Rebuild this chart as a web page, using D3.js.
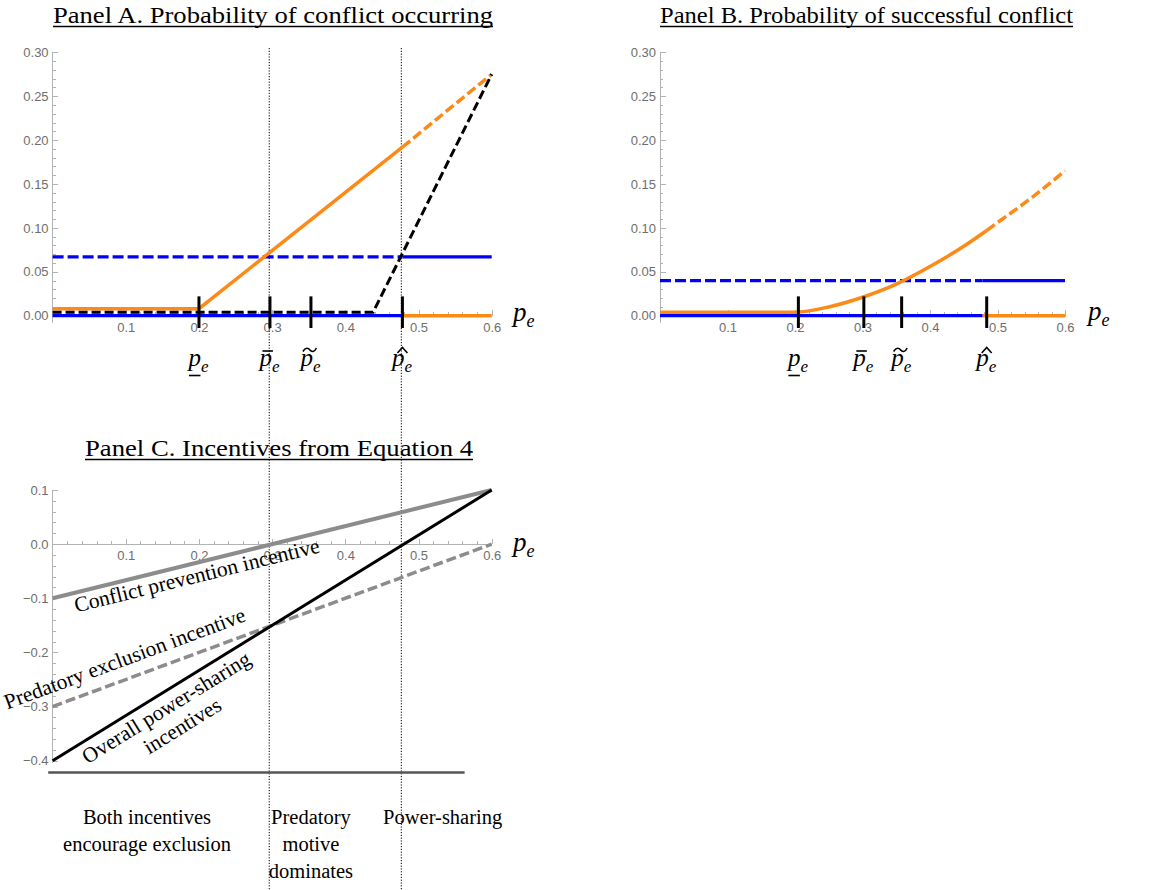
<!DOCTYPE html>
<html>
<head>
<meta charset="utf-8">
<script src="https://cdn.jsdelivr.net/npm/d3@7"></script>
<style>
  html, body { margin: 0; padding: 0; background: #fff; }
  svg { display: block; }
  .axis path, .axis line { stroke: #b3b3b3; stroke-width: 1; shape-rendering: crispEdges; }
  .axis text { font-family: "Liberation Sans", Arial, sans-serif; font-size: 13px; fill: #6e6e6e; }
  .serif { font-family: "Liberation Serif", "Times New Roman", serif; fill: #000; }
</style>
</head>
<body>
<div id="chart"></div>
<script>
// =====================================
// DATA
// =====================================

const xTicks = [0.1, 0.2, 0.3, 0.4, 0.5, 0.6];
const yTicksAB = [0, 0.05, 0.10, 0.15, 0.20, 0.25, 0.30];
const yTicksC = [-0.4, -0.3, -0.2, -0.1, 0, 0.1];

// threshold marks (underline, bar, tilde, hat)
const markTypes = ["under", "bar", "tilde", "hat"];
const marksA = [0.2, 0.297, 0.353, 0.478];
const marksB = [0.205, 0.302, 0.358, 0.484];
const dividers = [0.296, 0.4765];

// Panel A. Probability of conflict occurring
const aBlueZero = [[0, 0], [0.478, 0]];
const aBlueDash = [[0, 0.067], [0.478, 0.067]];
const aBlueSolid = [[0.478, 0.067], [0.6, 0.067]];
const aOrangeSolid = [[0, 0.008], [0.2, 0.008], [0.478, 0.192]];
const aOrangeDash = [[0.478, 0.192], [0.6, 0.275]];
const aOrangeZero = [[0.478, 0], [0.6, 0]];
const aBlackDash = [[0, 0.004], [0.438, 0.004], [0.6, 0.275]];

// Panel B. Probability of successful conflict
const bBlueZero = [[0, 0], [0.478, 0]];
const bBlueDash = [[0, 0.04], [0.478, 0.04]];
const bBlueSolid = [[0.478, 0.04], [0.6, 0.04]];
const bOrangeSolid = [[0, 0.004], [0.2, 0.004], [0.25, 0.010], [0.3, 0.021], [0.35, 0.036],
  [0.4, 0.056], [0.45, 0.079], [0.484, 0.097]];
const bOrangeDash = [[0.484, 0.097], [0.5, 0.106], [0.55, 0.134], [0.6, 0.165]];
const bOrangeZero = [[0.478, 0], [0.6, 0]];

// Panel C. Incentives from Equation 4
const cConflict = [[0, -0.1], [0.6, 0.1]];
const cPredatory = [[0, -0.3], [0.6, 0]];
const cOverall = [[0, -0.4], [0.6, 0.1]];

const regions = [
  { x: 0.129, lines: ["Both incentives", "encourage exclusion"] },
  { x: 0.353, lines: ["Predatory", "motive", "dominates"] },
  { x: 0.533, lines: ["Power-sharing"] }
];

// =====================================
// SVG
// =====================================

const svg = d3.select("#chart")
  .append("svg")
  .attr("width", 1157)
  .attr("height", 890);

const ORANGE = "#fd8a17";
const BLUE = "#0000ff";
const GRAY = "#8c8c8c";

// =====================================
// SCALES
// =====================================

const xA = d3.scaleLinear().domain([0, 0.6]).range([52.6, 491.7]);
const yA = d3.scaleLinear().domain([0, 0.3]).range([315.7, 52.3]);
const xB = d3.scaleLinear().domain([0, 0.6]).range([660, 1065]);
const yB = yA.copy();
const xC = xA.copy();
const yC = d3.scaleLinear().domain([-0.4, 0.1]).range([760.7, 490]);

// =====================================
// AXES
// =====================================

function drawAxes(x, y, yTicks, yMinor, yLow, fmt) {
  const xMinor = d3.range(1, 31).map(i => +(i * 0.02).toFixed(2))
    .filter(v => Math.abs(v * 10 - Math.round(v * 10)) > 1e-6);

  const gx = svg.append("g")
    .attr("class", "axis")
    .attr("transform", `translate(0,${y(0)})`);

  gx.append("g").call(
    d3.axisBottom(x).tickValues(xMinor).tickFormat("").tickSizeInner(-3.3).tickSizeOuter(0)
  ).select(".domain").remove();

  gx.append("g").call(
    d3.axisBottom(x).tickValues(xTicks).tickFormat(d3.format(".1f"))
      .tickSizeInner(-5.5).tickSizeOuter(0).tickPadding(7)
  );

  const gy = svg.append("g")
    .attr("class", "axis")
    .attr("transform", `translate(${x(0)},0)`);

  gy.append("g").call(
    d3.axisLeft(y).tickValues(yMinor).tickFormat("").tickSizeInner(-3.3).tickSizeOuter(0)
  ).select(".domain").remove();

  gy.append("g").call(
    d3.axisLeft(y).tickValues(yTicks).tickFormat(fmt)
      .tickSizeInner(-5.5).tickSizeOuter(0).tickPadding(4)
  ).select(".domain").remove();

  gy.append("line")
    .attr("x1", 0).attr("x2", 0)
    .attr("y1", y(yLow)).attr("y2", y(y.domain()[1]))
    .style("stroke", "#b3b3b3");
}

const minorAB = d3.range(0, 31).map(i => +(i * 0.01).toFixed(2)).filter(v => Math.round(v * 100) % 5 !== 0);
const minorC = d3.range(-20, 6).map(i => +(i * 0.02).toFixed(2)).filter(v => Math.round(v * 50) % 5 !== 0);

drawAxes(xA, yA, yTicksAB, minorAB, -0.008, d3.format(".2f"));
drawAxes(xB, yB, yTicksAB, minorAB, -0.008, d3.format(".2f"));
drawAxes(xC, yC, yTicksC, minorC, -0.405, d3.format(".1f"));

// =====================================
// DIVIDERS
// =====================================

svg.selectAll(".divider")
  .data(dividers)
  .enter()
  .append("line")
  .attr("class", "divider")
  .attr("x1", d => xA(d))
  .attr("x2", d => xA(d))
  .attr("y1", 48)
  .attr("y2", 890)
  .style("stroke", "#000")
  .style("stroke-width", 1)
  .style("stroke-dasharray", "1.2 1.6");

// =====================================
// LINES
// =====================================

function drawLine(data, x, y, color, width, dash, curve) {
  const line = d3.line()
    .x(d => x(d[0]))
    .y(d => y(d[1]))
    .curve(curve || d3.curveLinear);

  svg.append("path")
    .datum(data)
    .attr("d", line)
    .attr("fill", "none")
    .attr("stroke", color)
    .attr("stroke-width", width)
    .attr("stroke-dasharray", dash || null);
}

// Panel A
drawLine(aBlueZero, xA, yA, BLUE, 3.2);
drawLine(aBlueDash, xA, yA, BLUE, 3.2, "11 4");
drawLine(aBlueSolid, xA, yA, BLUE, 3.2);
drawLine(aOrangeSolid, xA, yA, ORANGE, 3.5);
drawLine(aOrangeDash, xA, yA, ORANGE, 3.5, "10 4");
drawLine(aOrangeZero, xA, yA, ORANGE, 3.5);
drawLine(aBlackDash, xA, yA, "#000", 3, "9 4");

// Panel B
drawLine(bBlueZero, xB, yB, BLUE, 3.2);
drawLine(bBlueDash, xB, yB, BLUE, 3.2, "11 4");
drawLine(bBlueSolid, xB, yB, BLUE, 3.2);
drawLine(bOrangeSolid, xB, yB, ORANGE, 3.5, null, d3.curveMonotoneX);
drawLine(bOrangeDash, xB, yB, ORANGE, 3.5, "10 4", d3.curveMonotoneX);
drawLine(bOrangeZero, xB, yB, ORANGE, 3.5);

// Panel C
drawLine(cConflict, xC, yC, GRAY, 4);
drawLine(cPredatory, xC, yC, GRAY, 3.5, "10 4");
drawLine(cOverall, xC, yC, "#000", 3);

// bottom rule of panel C
svg.append("line")
  .attr("x1", xC(-0.006))
  .attr("x2", xC(0.563))
  .attr("y1", yC(-0.422))
  .attr("y2", yC(-0.422))
  .style("stroke", "#555")
  .style("stroke-width", 2.5);

// =====================================
// THRESHOLD MARKS + LABELS
// =====================================

function pLabel(g, size, subSize) {
  const t = g.append("text")
    .attr("class", "serif")
    .style("font-style", "italic")
    .style("font-size", size + "px");
  t.append("tspan").text("p");
  t.append("tspan").attr("dy", size * 0.22).style("font-size", subSize + "px").text("e");
  return t;
}

function drawMarks(marks, x, y) {
  svg.selectAll(null)
    .data(marks)
    .enter()
    .append("line")
    .attr("x1", d => x(d))
    .attr("x2", d => x(d))
    .attr("y1", y(0.022))
    .attr("y2", y(-0.014))
    .style("stroke", "#000")
    .style("stroke-width", 3);

  marks.forEach((m, i) => {
    const g = svg.append("g")
      .attr("transform", `translate(${x(m) - 10.5},366)`);
    pLabel(g, 25, 17);

    const type = markTypes[i];
    const acc = g.append("path")
      .attr("fill", "none")
      .attr("stroke", "#000")
      .attr("stroke-width", 1.6);

    if (type === "under") acc.attr("d", "M0.5,9.5 L12,9.5");
    if (type === "bar") acc.attr("d", "M3,-15 L13.5,-15");
    if (type === "tilde") acc.attr("d", "M2.5,-14.5 C5,-19 8,-18 9.5,-16 C11,-14 14,-13.5 16,-18");
    if (type === "hat") acc.attr("d", "M5.5,-13 L10.5,-18.5 L15.5,-13");
  });
}

drawMarks(marksA, xA, yA);
drawMarks(marksB, xB, yB);

// axis name p_e
pLabel(svg.append("g").attr("transform", `translate(513,${yA(0) + 5.5})`), 27, 18);
pLabel(svg.append("g").attr("transform", `translate(1088,${yB(0) + 4.5})`), 27, 18);
pLabel(svg.append("g").attr("transform", `translate(513,${yC(0) + 7})`), 27, 18);

// =====================================
// TITLES
// =====================================

function title(text, cx, baseline, width) {
  svg.append("text")
    .attr("class", "serif")
    .attr("x", cx)
    .attr("y", baseline)
    .attr("text-anchor", "middle")
    .attr("textLength", width)
    .attr("lengthAdjust", "spacingAndGlyphs")
    .style("font-size", "24px")
    .text(text);

  svg.append("line")
    .attr("x1", cx - width / 2)
    .attr("x2", cx + width / 2)
    .attr("y1", baseline + 3.5)
    .attr("y2", baseline + 3.5)
    .style("stroke", "#000")
    .style("stroke-width", 1.3);
}

title("Panel A. Probability of conflict occurring", 273, 23, 440);
title("Panel B. Probability of successful conflict", 866.5, 23, 413);
title("Panel C. Incentives from Equation 4", 279, 456, 388);

// =====================================
// LINE ANNOTATIONS (PANEL C)
// =====================================

function alongLabel(data, p, offset, lines) {
  const [a, b] = data;
  const px0 = xC(a[0]), py0 = yC(a[1]), px1 = xC(b[0]), py1 = yC(b[1]);
  const angle = Math.atan2(py1 - py0, px1 - px0) * 180 / Math.PI;
  const v = a[1] + (b[1] - a[1]) * (p - a[0]) / (b[0] - a[0]);

  const t = svg.append("text")
    .attr("class", "serif")
    .attr("text-anchor", "middle")
    .attr("transform", `translate(${xC(p)},${yC(v)}) rotate(${angle})`)
    .style("font-size", "21.5px");

  lines.forEach((l, i) => {
    t.append("tspan")
      .attr("x", l.dx || 0)
      .attr("y", offset + i * 24)
      .text(l.text);
  });
}

alongLabel(cConflict, 0.193, 19.5, [{ text: "Conflict prevention incentive" }]);
alongLabel(cPredatory, 0.108, -13, [{ text: "Predatory exclusion incentive" }]);
alongLabel(cOverall, 0.145, 21.5, [{ text: "Overall power-sharing" }, { text: "incentives", dx: 4 }]);

// =====================================
// REGION LABELS
// =====================================

regions.forEach(r => {
  const t = svg.append("text")
    .attr("class", "serif")
    .attr("text-anchor", "middle")
    .style("font-size", "20.5px");
  r.lines.forEach((l, i) => {
    t.append("tspan")
      .attr("x", xC(r.x))
      .attr("y", 824 + i * 27)
      .text(l);
  });
});
</script>
</body>
</html>
